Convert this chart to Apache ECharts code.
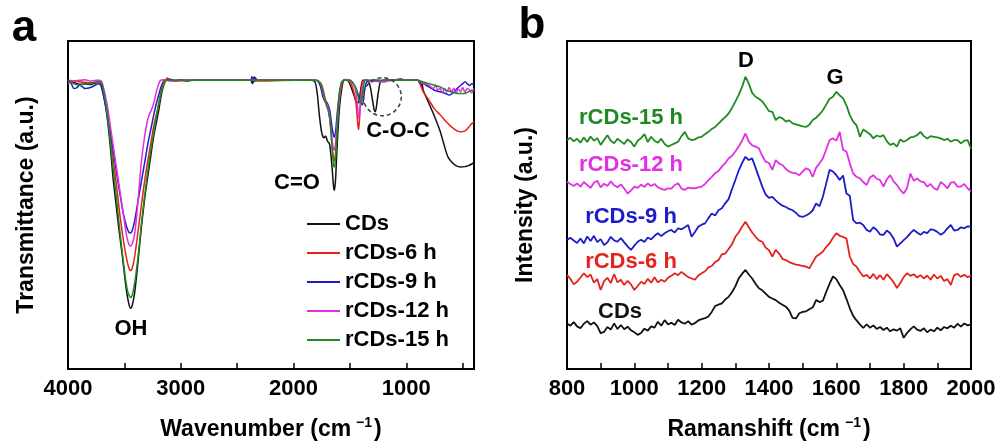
<!DOCTYPE html>
<html>
<head>
<meta charset="utf-8">
<script src="https://cdn.jsdelivr.net/npm/echarts@6/dist/echarts.min.js"></script>
<style>html,body{margin:0;padding:0;background:#fff;}#c{width:999px;height:447px;}</style>
</head>
<body>
<div id="c"></div>
<script>
// ---------- Panel a: FTIR (wavenumber, transmittance a.u.) ----------
const ftirNames = ['CDs', 'rCDs-6 h', 'rCDs-9 h', 'rCDs-12 h', 'rCDs-15 h'];
const ftirTickValues = [500, 1000, 1500, 2000, 2500, 3000, 3500, 4000];
const ftirLabelValues = [1000, 2000, 3000, 4000];

const ftirCDs = [[4000,88],[3950,87.4],[3900,86.8],[3850,86.9],[3800,86.7],[3760,87.2],[3720,87.6],[3700,86],[3680,83],[3650,76],[3620,66],[3600,58],[3580,52],[3550,43],[3520,35],[3500,29],[3480,23.5],[3460,19.8],[3445,18.5],[3430,19.5],[3410,23],[3390,29],[3370,36],[3350,43],[3320,52],[3300,57],[3270,64],[3240,71],[3200,78],[3170,84],[3140,87.5],[3110,88.4],[3080,88.2],[3050,87.8],[3000,88.1],[2950,87.8],[2900,88],[2500,88],[2380,88],[2365,87],[2350,89],[2335,88.3],[2320,88],[2000,88],[1850,88],[1810,87.5],[1790,84],[1770,77],[1750,72],[1730,70.5],[1715,71],[1700,69.5],[1680,68.5],[1660,62],[1645,55.5],[1638,54.5],[1628,57.5],[1612,69],[1592,80],[1570,86],[1550,88],[1530,88],[1510,87.5],[1480,85],[1455,82.5],[1435,81],[1420,81.5],[1405,85],[1385,88],[1345,88],[1320,86],[1300,82],[1285,79],[1275,78.4],[1265,80],[1250,84],[1230,87.5],[1200,88],[1100,88.2],[1050,88.4],[1000,88],[900,88],[880,87.4],[870,86.3],[860,86.8],[850,85],[800,81],[750,77],[700,72.5],[650,66.5],[630,64.6],[600,63.2],[560,62],[520,61.6],[480,61.7],[450,62],[420,62.5],[400,63]];
const ftirR6 = [[4000,88],[3900,87.6],[3800,87.3],[3720,87.6],[3700,87],[3680,84],[3650,78],[3620,70],[3600,64],[3570,56],[3540,47],[3510,39.5],[3480,33.5],[3460,30.8],[3445,30],[3430,30.8],[3410,34],[3390,39],[3360,47],[3330,55],[3300,62],[3270,68],[3240,74],[3200,80],[3170,85],[3140,87.6],[3120,88.7],[3100,88.1],[3050,87.9],[2900,88],[2380,88],[2360,88.6],[2340,87.8],[2000,88],[1800,88],[1760,87.2],[1740,85.5],[1720,82.5],[1700,80.5],[1680,76.5],[1660,68.5],[1645,64],[1637,63.5],[1627,66],[1610,75],[1590,83],[1570,87],[1550,88.3],[1520,88],[1490,87],[1465,84.5],[1445,80.5],[1430,74.5],[1423,73],[1415,76],[1403,84],[1385,87.6],[1350,88],[1300,87.7],[1250,88],[1200,87.8],[1100,88],[900,88],[880,87],[850,84.5],[800,82],[750,79.3],[700,77.5],[650,75.5],[600,73.8],[550,72.6],[520,72.3],[480,72.6],[450,73.6],[420,74.8],[400,75.3]];
const ftirR9 = [[4000,88],[3970,87],[3950,85.5],[3920,85.8],[3900,86.5],[3870,86],[3850,85.5],[3800,85.8],[3760,86.5],[3730,87],[3710,86.5],[3690,84],[3660,79],[3630,73],[3600,67],[3570,60],[3540,53.5],[3510,47.5],[3480,43.3],[3460,41.7],[3445,41.5],[3430,42.3],[3410,45],[3380,51],[3350,57],[3320,63],[3290,69],[3260,74],[3230,79],[3200,83],[3170,86.5],[3140,88],[3100,88],[2900,88],[2380,88],[2370,89.2],[2355,87.3],[2340,88.8],[2320,88],[2000,88],[1800,88],[1780,87.5],[1760,86],[1740,83],[1720,81.5],[1700,81],[1680,79],[1660,74],[1645,71.2],[1637,70.7],[1627,72.5],[1610,79],[1590,85],[1570,87.5],[1550,88],[1500,88],[1470,87],[1440,85],[1420,83],[1400,81],[1390,80.5],[1380,82],[1370,85],[1350,87.5],[1300,88],[1250,87.7],[1200,88],[900,88],[880,87.5],[850,87],[800,86],[750,85],[700,84.5],[650,84],[620,83.5],[590,84],[550,85.5],[500,87],[480,87.6],[460,87],[440,86.4],[420,87],[400,86.5]];
const ftirR12 = [[4000,87],[3950,87.8],[3900,88],[3850,88.2],[3800,87.8],[3750,88],[3720,88],[3700,87.5],[3680,85],[3650,80],[3620,73],[3590,66],[3560,59],[3530,52],[3500,45],[3480,40.5],[3460,38],[3445,37.5],[3430,38.2],[3410,41],[3390,47],[3370,55],[3350,63],[3320,71],[3300,75],[3280,77.5],[3260,79],[3240,81],[3220,84],[3200,86.5],[3180,88],[3150,88.2],[3100,87.8],[2900,88],[2000,88],[1800,88],[1760,87],[1740,84.5],[1720,81.5],[1700,80.5],[1680,77],[1660,70],[1645,67],[1637,66.8],[1627,69],[1610,77],[1590,84],[1570,87.5],[1550,88],[1500,88],[1470,87],[1450,85],[1432,80],[1422,76.5],[1410,79],[1395,84],[1380,87.5],[1350,88],[1300,87.5],[1270,88.2],[1250,87.6],[1200,87.5],[1150,88],[900,88],[850,87.2],[800,86.5],[760,85.5],[740,86.5],[720,85],[700,85.6],[680,84.2],[660,85.5],[640,84.6],[620,85.8],[600,84.4],[580,85.6],[560,84],[540,85.4],[520,84.6],[500,85.8],[480,84.4],[460,85.6],[440,85],[420,84.2],[400,85.5]];
const ftirR15 = [[4000,88],[3950,87],[3900,86.5],[3850,87],[3800,87],[3750,87.5],[3720,87.5],[3700,87],[3680,84],[3650,77],[3620,68],[3600,61],[3570,52],[3540,42],[3510,33],[3490,27.5],[3470,23.5],[3455,22.2],[3445,21.8],[3430,22.5],[3410,26],[3390,31],[3370,37],[3350,44],[3320,53],[3290,61],[3260,68],[3230,74],[3200,80],[3170,85],[3140,88],[3100,88],[2900,88],[2000,88],[1800,88],[1770,87.5],[1750,86],[1730,83],[1710,80.5],[1690,78.5],[1670,74],[1655,66],[1645,62],[1637,61.6],[1628,64],[1612,74],[1595,83],[1575,87.5],[1550,88],[1500,88],[1470,87],[1440,85],[1420,82],[1405,81],[1395,82],[1380,86],[1360,88],[900,88],[850,87.5],[800,87],[700,86],[650,85],[600,84.5],[550,84],[500,84],[480,84],[450,84.5],[420,85],[400,85]];

// ---------- Panel b: Raman (offset stacked, a.u.) ----------
const ramanNames = ['CDs', 'rCDs-6 h', 'rCDs-9 h', 'rCDs-12 h', 'rCDs-15 h'];
const ramanTickValues = [800, 900, 1000, 1100, 1200, 1300, 1400, 1500, 1600, 1700, 1800, 1900, 2000];
const ramanLabelValues = [800, 1000, 1200, 1400, 1600, 1800, 2000];
const ramanShift = [800,810,820,830,840,850,860,870,880,890,900,910,920,930,940,950,960,970,980,990,1000,1010,1020,1030,1040,1050,1060,1070,1080,1090,1100,1110,1120,1130,1140,1150,1160,1170,1180,1190,1200,1210,1220,1230,1240,1250,1260,1270,1280,1290,1300,1310,1320,1330,1340,1350,1360,1370,1380,1390,1400,1410,1420,1430,1440,1450,1460,1470,1480,1490,1500,1510,1520,1530,1540,1550,1560,1570,1580,1590,1600,1610,1620,1630,1640,1650,1660,1670,1680,1690,1700,1710,1720,1730,1740,1750,1760,1770,1780,1790,1800,1810,1820,1830,1840,1850,1860,1870,1880,1890,1900,1910,1920,1930,1940,1950,1960,1970,1980,1990,2000];
const ramanCDs = [13.9,13.2,14.3,13.0,12.4,13.8,14.6,13.5,14.2,13.1,10.9,11.3,12.8,12.0,13.9,12.2,13.4,12.1,12.9,11.8,11.2,10.4,11.0,12.3,11.7,13.0,12.6,14.4,13.2,14.9,13.6,14.1,13.4,15.0,14.2,13.8,14.6,13.5,14.0,14.8,15.2,15.5,16.0,17.4,19.2,19.6,20.0,21.2,22.0,23.4,25.2,27.6,29.0,30.2,28.8,27.6,26.0,24.6,24.0,23.0,22.0,21.5,21.0,20.2,19.6,19.0,17.8,15.6,15.4,17.0,17.4,17.6,18.2,18.8,21.0,20.4,20.8,23.5,26.0,28.2,27.4,25.6,24.0,21.4,18.5,16.2,14.8,13.6,12.5,13.6,12.6,13.3,12.2,12.8,11.9,12.6,11.5,12.1,11.7,12.4,9.5,11.0,12.1,13.0,12.0,11.6,12.4,11.2,12.0,11.5,12.6,11.8,12.8,12.4,13.2,12.6,13.8,12.9,13.9,13.3,13.6];
const ramanR6 = [28.7,27.5,25.8,26.6,27.9,29.2,28.0,28.8,26.3,27.4,24.1,26.8,27.8,26.2,28.9,26.4,27.2,25.6,26.9,25.8,24.1,25.3,26.6,25.9,27.5,26.3,28.0,26.4,27.2,26.6,27.8,28.4,29.2,28.6,29.6,28.8,28.0,27.6,27.2,28.5,29.2,29.8,31.0,31.4,32.6,33.2,35.0,35.2,36.6,38.0,40.3,41.6,43.4,44.9,43.2,41.6,40.3,39.2,38.8,37.0,36.2,34.3,36.3,35.2,33.6,33.2,32.6,32.2,31.8,31.7,31.4,31.2,30.7,32.5,34.3,35.0,35.8,37.2,38.3,40.0,41.4,40.6,40.3,39.8,34.3,32.0,31.2,29.6,28.2,28.7,27.6,29.0,27.4,28.6,27.2,28.9,27.8,26.5,24.7,26.2,28.0,29.2,28.4,28.9,27.9,28.6,27.6,28.5,27.2,28.8,27.6,28.4,26.8,27.4,25.6,28.6,29.0,28.1,28.7,28.0,28.4];
const ramanR9 = [39.3,40.0,39.2,38.4,39.8,38.3,40.4,39.0,40.6,38.7,39.6,37.8,38.6,40.3,39.2,38.8,39.9,38.6,37.4,36.3,37.6,38.8,39.4,38.7,40.1,39.5,40.6,41.4,40.5,41.4,42.0,42.4,41.6,42.9,42.6,43.2,43.9,40.3,41.8,43.4,44.0,44.4,46.0,47.4,46.8,48.4,49.0,50.5,51.8,54.8,57.6,60.5,62.8,64.7,63.7,64.2,61.4,58.5,55.6,53.2,52.2,52.5,51.4,50.5,49.8,49.4,48.8,48.4,47.6,46.6,46.4,46.8,47.4,48.4,50.5,49.6,52.5,56.6,60.7,60.2,59.1,57.6,59.0,53.5,52.8,45.4,44.4,44.6,43.9,42.4,41.9,43.2,42.4,41.0,40.9,42.2,41.4,39.8,37.3,38.3,39.3,40.2,41.4,42.4,41.6,40.9,41.8,41.4,42.6,42.4,41.8,40.9,41.6,42.9,43.9,42.2,42.4,43.2,42.9,43.5,43.4];
const ramanR12 = [57.1,56.4,55.8,56.6,55.6,57.0,56.1,55.2,56.8,57.4,55.4,56.5,55.8,57.2,56.0,55.4,56.3,55.0,53.5,54.4,55.6,55.2,56.2,55.5,56.6,55.8,56.4,55.4,54.9,54.6,55.1,55.0,56.1,56.6,55.0,54.6,55.3,55.1,55.1,55.4,55.6,56.4,57.6,58.6,59.7,60.4,61.7,62.8,64.2,65.0,66.3,67.8,69.6,71.8,69.3,68.2,67.8,67.3,65.0,63.2,62.8,60.7,63.7,62.6,62.2,61.0,60.2,59.8,59.7,59.1,60.2,61.2,60.7,58.6,61.4,62.7,64.2,67.0,69.8,70.3,69.6,72.3,66.8,66.3,62.7,59.6,58.6,58.1,57.0,56.1,58.4,59.1,58.0,57.6,55.6,57.8,59.1,57.2,56.1,54.6,53.5,55.2,59.6,57.4,58.1,57.2,57.0,55.6,56.4,55.1,54.6,57.0,56.2,55.1,56.8,57.0,55.6,55.6,56.4,55.1,54.2];
const ramanR15 = [69.8,70.5,69.4,70.2,69.0,70.6,69.2,70.9,69.6,70.4,68.3,69.8,71.3,69.6,68.8,70.2,69.4,68.6,70.0,69.2,67.8,69.6,70.4,71.6,69.2,70.8,69.6,69.0,70.2,68.6,67.8,68.3,68.8,69.3,71.0,72.3,70.3,69.8,70.0,70.6,70.8,71.6,72.3,73.2,73.8,74.8,75.9,76.8,77.9,79.6,81.5,83.6,86.0,89.1,87.0,84.2,83.0,82.4,81.6,80.2,78.6,78.4,75.9,76.8,76.4,75.4,75.8,74.9,74.6,74.3,74.0,73.8,74.5,75.9,76.6,77.6,78.9,80.6,82.4,83.0,84.5,83.4,82.5,80.4,77.4,75.4,74.3,70.8,73.0,72.3,71.6,70.3,71.2,70.8,71.3,69.4,68.3,68.8,67.8,70.0,69.3,69.8,70.6,70.8,71.3,72.3,71.0,70.3,71.0,70.8,70.6,70.3,69.8,70.2,69.3,69.8,69.8,68.8,69.6,69.8,67.2];

const colors = ['#111111', '#e3231c', '#1c1cc8', '#e030e0', '#1f8a1f'];
const FONT = '"Liberation Sans", Arial, sans-serif';

const chart = echarts.init(document.getElementById('c'), null, {renderer: 'canvas'});

const ftirData = [ftirCDs, ftirR6, ftirR9, ftirR12, ftirR15];
const ramanData = [ramanCDs, ramanR6, ramanR9, ramanR12, ramanR15];

function xAxisCfg(gridIndex, min, max, inverse, ticks, labels, nameRich) {
  return {
    type: 'value', gridIndex, min, max, inverse,
    position: 'bottom',
    axisLine: {show: true, onZero: false, lineStyle: {color: '#000', width: 2}},
    axisTick: {show: true, inside: true, length: 6, customValues: ticks, lineStyle: {color: '#000', width: 1.5}},
    axisLabel: {show: true, customValues: labels, margin: 9, color: '#000', fontSize: 22, fontWeight: 'bold', fontFamily: FONT,
      formatter: v => String(v)},
    splitLine: {show: false},
    name: nameRich, nameLocation: 'middle', nameGap: 47,
    nameTextStyle: {
      color: '#000',
      rich: {
        t: {fontSize: 23, fontWeight: 'bold', fontFamily: FONT, color: '#000', lineHeight: 28},
        s: {fontSize: 14, fontWeight: 'bold', fontFamily: FONT, color: '#000', verticalAlign: 'top', lineHeight: 14, padding: [0, 2, 0, 5]}
      }
    }
  };
}
function yAxisCfg(gridIndex, name) {
  return {
    type: 'value', gridIndex, min: 0, max: 100,
    axisLine: {show: true, lineStyle: {color: '#000', width: 2}},
    axisTick: {show: false}, axisLabel: {show: false}, splitLine: {show: false},
    name, nameLocation: 'middle', nameGap: 30,
    nameTextStyle: {color: '#000', fontSize: 23, fontWeight: 'bold', fontFamily: FONT}
  };
}

const series = [];
ftirNames.forEach((n, i) => {
  series.push({
    name: n, type: 'line', xAxisIndex: 0, yAxisIndex: 0,
    data: ftirData[i], symbol: 'none', smooth: 0.25,
    lineStyle: {color: colors[i], width: 1.5}, itemStyle: {color: colors[i]},
    animation: false, z: 2 + i
  });
});
ramanNames.forEach((n, i) => {
  series.push({
    name: 'Raman ' + n, type: 'line', xAxisIndex: 1, yAxisIndex: 1,
    data: ramanShift.map((x, k) => [x, ramanData[i][k]]), symbol: 'none',
    lineStyle: {color: colors[i], width: 1.8}, itemStyle: {color: colors[i]},
    animation: false
  });
});

function txt(text, x, y, size, color) {
  return {type: 'text', x, y, z: 100, style: {text, font: 'bold ' + size + 'px ' + FONT, fill: color || '#000', align: 'center', verticalAlign: 'middle'}};
}

chart.setOption({
  backgroundColor: '#fff',
  animation: false,
  grid: [
    {left: 68, top: 41, width: 406, height: 328, show: true, borderColor: '#000', borderWidth: 2, backgroundColor: 'transparent'},
    {left: 567, top: 41, width: 404, height: 328, show: true, borderColor: '#000', borderWidth: 2, backgroundColor: 'transparent'}
  ],
  xAxis: [
    xAxisCfg(0, 400, 4000, true, ftirTickValues, ftirLabelValues, '{t|Wavenumber (cm}{s|−1}{t|)}'),
    xAxisCfg(1, 800, 2000, false, ramanTickValues, ramanLabelValues, '{t|Ramanshift (cm}{s|−1}{t|)}')
  ],
  yAxis: [yAxisCfg(0, 'Transmittance (a.u.)'), yAxisCfg(1, 'Intensity (a.u.)')],
  legend: {
    show: true,
    data: ftirNames.map(n => ({name: n, icon: 'rect'})),
    orient: 'vertical', left: 307, top: 213, padding: 0,
    itemWidth: 33, itemHeight: 2, itemGap: 7,
    textStyle: {color: '#000', fontSize: 22, fontWeight: 'bold', fontFamily: FONT, lineHeight: 22},
    selectedMode: false
  },
  series
});

const cc = chart.convertToPixel({xAxisIndex: 0, yAxisIndex: 0}, [1213, 83]);
chart.setOption({
  graphic: [
    txt('a', 24, 29, 44),
    txt('b', 532, 26, 44),
    txt('OH', 131, 329, 22),
    txt('C=O', 297, 183, 22),
    txt('C-O-C', 398, 131, 22),
    txt('D', 746, 61, 22),
    txt('G', 835, 78, 22),
    txt('rCDs-15 h', 631, 118, 22, colors[4]),
    txt('rCDs-12 h', 631, 165, 22, colors[3]),
    txt('rCDs-9 h', 631, 217, 22, colors[2]),
    txt('rCDs-6 h', 631, 262, 22, colors[1]),
    txt('CDs', 620, 312, 22, colors[0]),
    {type: 'circle', z: 50, shape: {cx: cc[0], cy: cc[1], r: 19}, style: {fill: 'none', stroke: '#2c3d5a', lineWidth: 1.5, lineDash: [4, 3]}}
  ]
});
</script>
</body>
</html>
